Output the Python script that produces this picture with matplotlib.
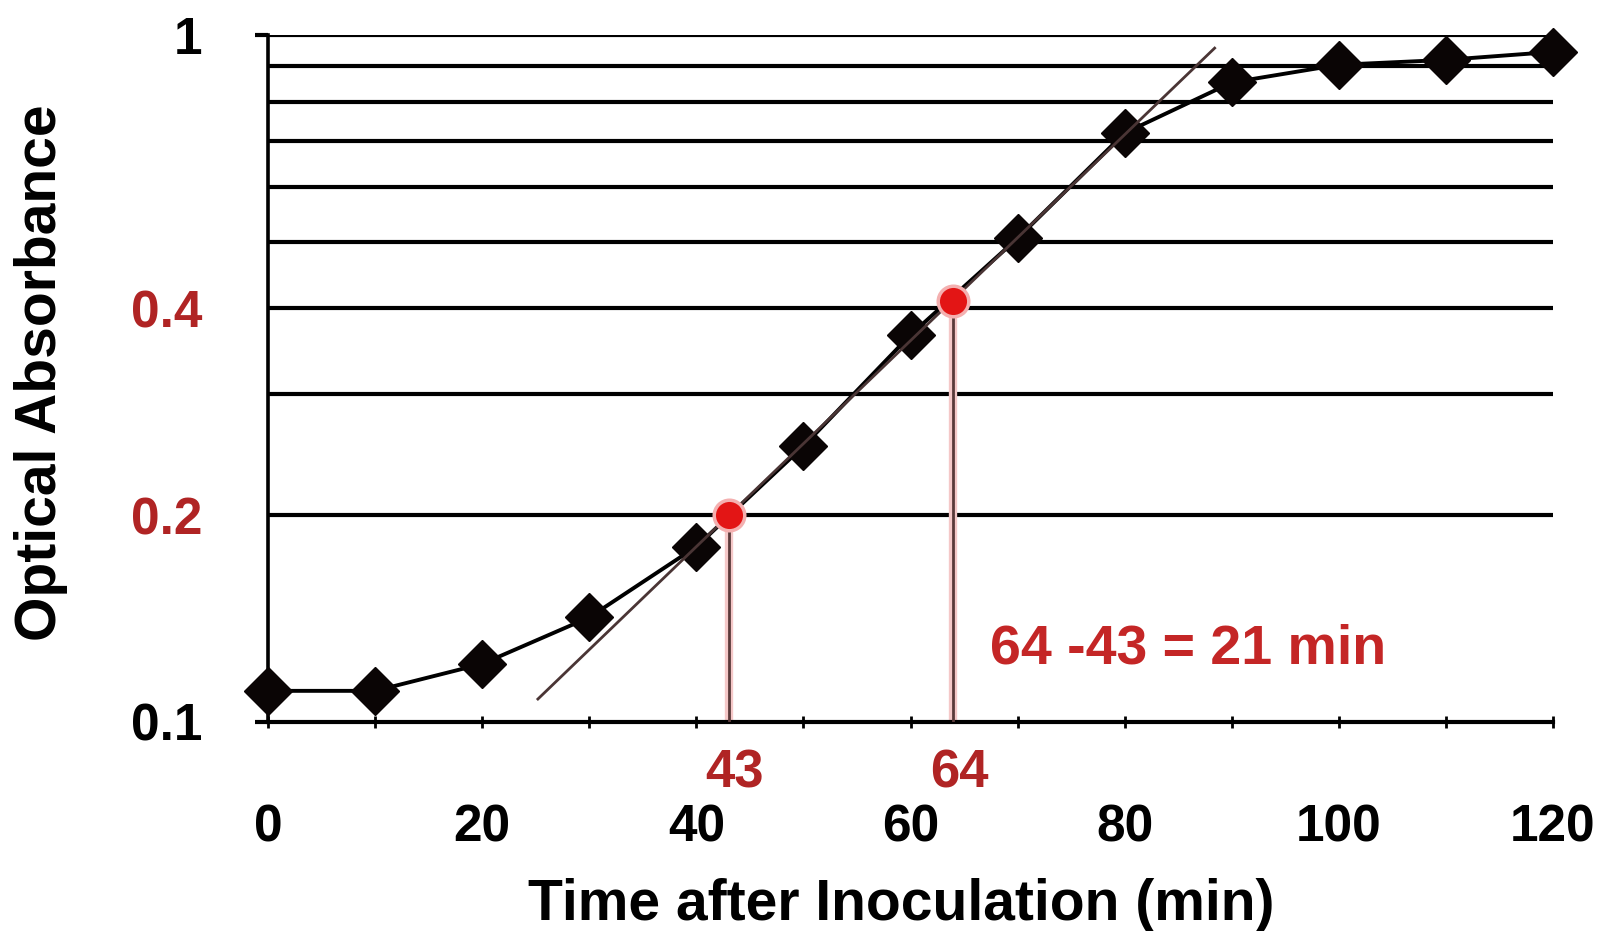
import matplotlib
matplotlib.use("Agg")
import matplotlib.pyplot as plt

plt.rcParams['font.family'] = ['Liberation Sans', 'DejaVu Sans']
plt.rcParams['font.weight'] = 'bold'

zeit = [0, 10, 20, 30, 40, 50, 60, 70, 80, 90, 100, 110, 120]
absorbanz = [0.111, 0.111, 0.1215, 0.142, 0.18, 0.252, 0.366, 0.506, 0.72, 0.853, 0.905, 0.92, 0.945]

# Ausgleichsgerade (exponentielle Phase)
fit_x = [25.2, 88.4]
fit_y = [0.108, 0.957]

# Markierte Punkte fuer die Verdopplungszeit
rot_x = [43, 64]
rot_y = [0.2, 0.41]
rot_labels = ['43', '64']

y_ticks = [0.1, 0.2, 0.4, 1]
y_ticklabels = ['0.1', '0.2', '0.4', '1']
x_ticks = [0, 20, 40, 60, 80, 100, 120]
grid_werte = [0.2, 0.3, 0.4, 0.5, 0.6, 0.7, 0.8, 0.9, 1.0]

schwarz = '#000000'
rot_text = '#b02424'
rot_punkt = '#e31515'
braun = '#5a3a3a'

fig = plt.figure(figsize=(16.10, 9.31), dpi=100)
ax = fig.add_axes([0.1665, 0.2245, 0.7981, 0.7379])

ax.set_yscale('log')
ax.set_xlim(0, 120)
ax.set_ylim(0.1, 1)

# horizontale Gitterlinien
for g in grid_werte:
    ax.axhline(g, color=schwarz, lw=3.0, zorder=1)

# senkrechte Hilfslinien von den roten Punkten
for x, y in zip(rot_x, rot_y):
    ax.plot([x, x], [0.1, y], color='#f5c8c8', lw=6, zorder=2, solid_capstyle='butt')
    ax.plot([x, x], [0.1, y], color=braun, lw=2.0, zorder=3, solid_capstyle='butt')

# Messkurve
ax.plot(zeit, absorbanz, color=schwarz, lw=2.8, marker='D', markersize=24,
        markerfacecolor='#0a0505', markeredgecolor='#0a0505', zorder=4, clip_on=False)

# Ausgleichsgerade
ax.plot(fit_x, fit_y, color='#4a3535', lw=2.0, zorder=5)

# rote Punkte
ax.plot(rot_x, rot_y, linestyle='none', marker='o', markersize=22,
        markerfacecolor=rot_punkt, markeredgecolor='#f4b0b0', markeredgewidth=2.5, zorder=6)

for x, lab in zip(rot_x, rot_labels):
    ax.text(x + 0.6, -0.075, lab, transform=ax.get_xaxis_transform(), ha='center', va='center',
            fontsize=38, fontweight='bold', color=rot_text, clip_on=False)

ax.text(67.4, 0.1273, '64 -43 = 21 min', ha='left', va='center', fontsize=40,
        fontweight='bold', color='#c42626')

# Achsen
ax.spines['top'].set_visible(False)
ax.spines['right'].set_visible(False)
ax.spines['left'].set_linewidth(2.6)
ax.spines['bottom'].set_linewidth(3.0)

ax.set_xticks(x_ticks)
ax.set_xticks(range(0, 121, 10), minor=True)
ax.tick_params(axis='x', which='both', direction='inout', length=9, width=2, pad=54,
               labelsize=37)

ax.yaxis.set_minor_locator(matplotlib.ticker.NullLocator())
ax.set_yticks(y_ticks)
ax.set_yticklabels(y_ticklabels)
ax.tick_params(axis='y', which='major', direction='out', length=9.5, width=3.0, pad=38,
               labelsize=37)
for t, lab in zip(ax.yaxis.get_major_ticks(), y_ticklabels):
    if lab in ('0.2', '0.4'):
        t.tick1line.set_visible(False)
        t.label1.set_color(rot_text)
for lab in ax.get_xticklabels() + ax.get_yticklabels():
    lab.set_fontweight('bold')

ax.set_xlabel('Time after Inoculation (min)', fontsize=41, fontweight='bold')
ax.xaxis.set_label_coords(0.4926, -0.266)
ax.xaxis.label.set_va('center')
ax.set_ylabel('Optical Absorbance', fontsize=41, fontweight='bold')
ax.yaxis.set_label_coords(-0.1767, 0.508)
ax.yaxis.label.set_va('center')

fig.savefig('out.png', dpi=100)
